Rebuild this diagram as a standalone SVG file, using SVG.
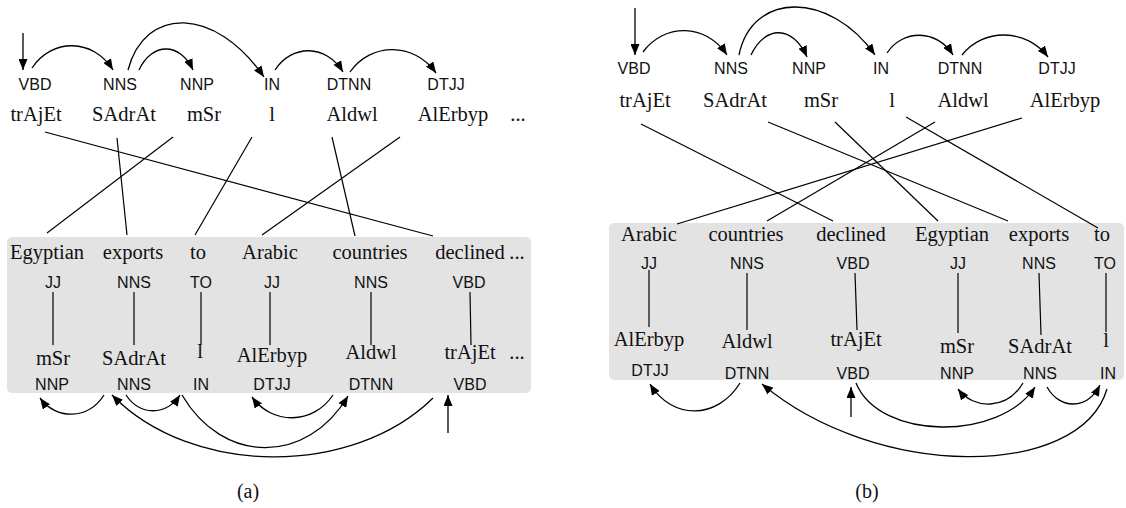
<svg xmlns="http://www.w3.org/2000/svg" width="1126" height="508" viewBox="0 0 1126 508">
<style>
.tag{font-family:"Liberation Sans",Arial,sans-serif;font-size:16px;fill:#111;text-anchor:middle}
.w{font-family:"Liberation Serif","Times New Roman",serif;font-size:20.5px;fill:#111;text-anchor:middle}
.cap{font-family:"Liberation Serif","Times New Roman",serif;font-size:20px;fill:#111;text-anchor:middle}
.box{fill:#e3e3e3;stroke:none}
.ln{stroke:#000;stroke-width:1.2;fill:none}
.arc{stroke:#000;stroke-width:1.3;fill:none;marker-end:url(#ah)}
</style>
<defs>
<marker id="ah" markerUnits="userSpaceOnUse" markerWidth="12" markerHeight="9" refX="11" refY="4.5" orient="auto">
<path d="M0,0 L11,4.5 L0,9 z" fill="#000"/>
</marker>
</defs>

<!-- boxes -->
<rect id="boxA" class="box" x="7" y="237" width="524" height="156" rx="5"/>
<rect id="boxB" class="box" x="609" y="223" width="515" height="157" rx="5"/>

<!-- ===== Panel (a) top ===== -->
<g id="a-top-trAjEt"><text class="tag" x="35" y="90">VBD</text><text class="w" x="36" y="121">trAjEt</text></g>
<g id="a-top-SAdrAt"><text class="tag" x="120" y="90">NNS</text><text class="w" x="124" y="121">SAdrAt</text></g>
<g id="a-top-mSr"><text class="tag" x="197" y="90">NNP</text><text class="w" x="204" y="121">mSr</text></g>
<g id="a-top-l"><text class="tag" x="272" y="90">IN</text><text class="w" x="272" y="121">l</text></g>
<g id="a-top-Aldwl"><text class="tag" x="349" y="90">DTNN</text><text class="w" x="352" y="121">Aldwl</text></g>
<g id="a-top-AlErbyp"><text class="tag" x="446" y="90">DTJJ</text><text class="w" x="453" y="121">AlErbyp</text></g>
<g id="a-top-dots"><text class="w" x="518" y="121">...</text></g>

<!-- ===== Panel (a) bottom ===== -->
<g id="a-bot-Egyptian"><text class="w" x="47" y="259">Egyptian</text><text class="tag" x="53" y="288">JJ</text><text class="w" x="53" y="365">mSr</text><text class="tag" x="52" y="390">NNP</text></g>
<g id="a-bot-exports"><text class="w" x="133" y="259">exports</text><text class="tag" x="134" y="288">NNS</text><text class="w" x="134" y="365">SAdrAt</text><text class="tag" x="134" y="390">NNS</text></g>
<g id="a-bot-to"><text class="w" x="198" y="259">to</text><text class="tag" x="201" y="288">TO</text><text class="w" x="200" y="358">l</text><text class="tag" x="201" y="390">IN</text></g>
<g id="a-bot-Arabic"><text class="w" x="270" y="259">Arabic</text><text class="tag" x="272" y="288">JJ</text><text class="w" x="272" y="362">AlErbyp</text><text class="tag" x="272" y="390">DTJJ</text></g>
<g id="a-bot-countries"><text class="w" x="370" y="259">countries</text><text class="tag" x="371" y="288">NNS</text><text class="w" x="371" y="359">Aldwl</text><text class="tag" x="371" y="390">DTNN</text></g>
<g id="a-bot-declined"><text class="w" x="470" y="259">declined</text><text class="tag" x="469" y="288">VBD</text><text class="w" x="470" y="359">trAjEt</text><text class="tag" x="470" y="390">VBD</text></g>
<g id="a-bot-dots"><text class="w" x="517" y="259">...</text><text class="w" x="517" y="359">...</text></g>

<text id="capA" class="cap" x="248" y="498">(a)</text>

<!-- ===== Panel (b) top ===== -->
<g id="b-top-trAjEt"><text class="tag" x="634" y="74">VBD</text><text class="w" x="645" y="107">trAjEt</text></g>
<g id="b-top-SAdrAt"><text class="tag" x="731" y="74">NNS</text><text class="w" x="735" y="107">SAdrAt</text></g>
<g id="b-top-mSr"><text class="tag" x="809" y="74">NNP</text><text class="w" x="821" y="107">mSr</text></g>
<g id="b-top-l"><text class="tag" x="881" y="74">IN</text><text class="w" x="892" y="107">l</text></g>
<g id="b-top-Aldwl"><text class="tag" x="960" y="74">DTNN</text><text class="w" x="963" y="107">Aldwl</text></g>
<g id="b-top-AlErbyp"><text class="tag" x="1057" y="74">DTJJ</text><text class="w" x="1065" y="107">AlErbyp</text></g>

<!-- ===== Panel (b) bottom ===== -->
<g id="b-bot-Arabic"><text class="w" x="649" y="241">Arabic</text><text class="tag" x="649" y="269">JJ</text><text class="w" x="649" y="346">AlErbyp</text><text class="tag" x="650" y="376">DTJJ</text></g>
<g id="b-bot-countries"><text class="w" x="746" y="241">countries</text><text class="tag" x="747" y="269">NNS</text><text class="w" x="747" y="348">Aldwl</text><text class="tag" x="747" y="379">DTNN</text></g>
<g id="b-bot-declined"><text class="w" x="851" y="241">declined</text><text class="tag" x="853" y="269">VBD</text><text class="w" x="856" y="346">trAjEt</text><text class="tag" x="853" y="379">VBD</text></g>
<g id="b-bot-Egyptian"><text class="w" x="952" y="241">Egyptian</text><text class="tag" x="958" y="269">JJ</text><text class="w" x="957" y="353">mSr</text><text class="tag" x="957" y="379">NNP</text></g>
<g id="b-bot-exports"><text class="w" x="1039" y="241">exports</text><text class="tag" x="1039" y="269">NNS</text><text class="w" x="1040" y="353">SAdrAt</text><text class="tag" x="1040" y="379">NNS</text></g>
<g id="b-bot-to"><text class="w" x="1102" y="241">to</text><text class="tag" x="1105" y="269">TO</text><text class="w" x="1106" y="347">l</text><text class="tag" x="1108" y="379">IN</text></g>

<text id="capB" class="cap" x="867" y="498">(b)</text>

<!-- ===== connectors ===== -->
<g id="connectors">
  <!-- (a) top arcs -->
  <path class="arc" d="M23,33 L23,70"/>
  <path class="arc" d="M32,68 C52,38 93,38 113,70"/>
  <path class="arc" d="M139,70 C152,42 180,42 193,70"/>
  <path class="arc" d="M128,70 C145,6 215,6 264,77"/>
  <path class="arc" d="M275,70 C292,44 326,44 343,72"/>
  <path class="arc" d="M350,72 C371,42 414,42 436,73"/>
  <!-- (a) alignment lines -->
  <line class="ln" x1="45" y1="132" x2="433" y2="236"/>
  <line class="ln" x1="117" y1="138" x2="127" y2="235"/>
  <line class="ln" x1="173" y1="137" x2="47" y2="233"/>
  <line class="ln" x1="252" y1="137" x2="195" y2="235"/>
  <line class="ln" x1="332" y1="137" x2="355" y2="236"/>
  <line class="ln" x1="400" y1="137" x2="262" y2="235"/>
  <!-- (a) vertical lines -->
  <line class="ln" x1="53" y1="292" x2="53" y2="345"/>
  <line class="ln" x1="134" y1="292" x2="134" y2="345"/>
  <line class="ln" x1="201" y1="292" x2="201" y2="345"/>
  <line class="ln" x1="270" y1="292" x2="270" y2="345"/>
  <line class="ln" x1="371" y1="292" x2="371" y2="345"/>
  <line class="ln" x1="470" y1="292" x2="471" y2="345"/>
  <!-- (a) bottom arcs -->
  <path class="arc" d="M104,395 C88,420 56,420 40,398"/>
  <path class="arc" d="M126,395 C140,416 166,416 180,395"/>
  <path class="arc" d="M333,395 C313,425 272,425 252,397"/>
  <path class="arc" d="M182,395 C223,465 307,465 348,396"/>
  <path class="arc" d="M433,398 C353,477 192,477 112,395"/>
  <path class="arc" d="M448,433 L448,395"/>

  <!-- (b) top arcs -->
  <path class="arc" d="M635,8 L635,55"/>
  <path class="arc" d="M643,52 C664,23 706,23 727,55"/>
  <path class="arc" d="M751,55 C765,25 793,25 807,57"/>
  <path class="arc" d="M739,55 C752,-9 830,-9 875,55"/>
  <path class="arc" d="M887,53 C903,29 937,29 953,55"/>
  <path class="arc" d="M962,55 C983,28 1026,28 1048,57"/>
  <!-- (b) alignment lines -->
  <line class="ln" x1="641" y1="124" x2="833" y2="221"/>
  <line class="ln" x1="768" y1="122" x2="1008" y2="221"/>
  <line class="ln" x1="835" y1="122" x2="938" y2="221"/>
  <line class="ln" x1="906" y1="117" x2="1098" y2="228"/>
  <line class="ln" x1="935" y1="122" x2="767" y2="221"/>
  <line class="ln" x1="1022" y1="118" x2="677" y2="224"/>
  <!-- (b) vertical lines -->
  <line class="ln" x1="649" y1="270" x2="649" y2="327"/>
  <line class="ln" x1="747" y1="273" x2="747" y2="330"/>
  <line class="ln" x1="855" y1="273" x2="857" y2="330"/>
  <line class="ln" x1="958" y1="273" x2="958" y2="333"/>
  <line class="ln" x1="1039" y1="273" x2="1041" y2="335"/>
  <line class="ln" x1="1106" y1="273" x2="1106" y2="332"/>
  <!-- (b) bottom arcs -->
  <path class="arc" d="M740,383 C717,420 672,420 650,384"/>
  <path class="arc" d="M1107,389 C1080,480 876,480 762,384"/>
  <path class="arc" d="M851,417 L851,387"/>
  <path class="arc" d="M856,383 C880,441 1000,441 1035,387"/>
  <path class="arc" d="M1023,383 C1007,410 974,410 958,389"/>
  <path class="arc" d="M1047,387 C1060,410 1087,410 1100,385"/>
</g>
</svg>
